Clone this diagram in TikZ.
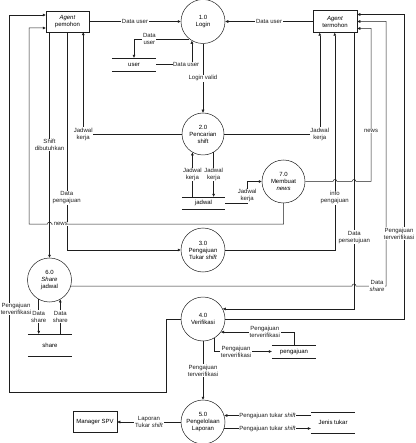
\documentclass[tikz,border=0pt]{standalone}
\usepackage{fontspec}
\setmainfont{Liberation Sans}
\usetikzlibrary{arrows.meta}
\definecolor{garis}{HTML}{1E1E1E}
\newcommand{\kecil}{\fontsize{6}{7}\selectfont}
\tikzset{
  proses/.style={circle,draw=garis,line width=0.5pt,minimum size=44pt,inner sep=0pt,align=center,font=\kecil},
  entitas/.style={draw=garis,line width=0.5pt,minimum width=44pt,minimum height=21pt,inner sep=1pt,align=center,font=\kecil},
  simpan/.style={minimum width=44pt,minimum height=13pt,inner sep=0pt,font=\kecil},
  alir/.style={-{Triangle[length=3pt,width=2.6pt]},garis,line width=0.5pt},
  polos/.style={garis,line width=0.5pt},
  ket/.style={fill=white,inner sep=0.6pt,align=center,font=\kecil},
}

\begin{document}
\begin{tikzpicture}[x=1pt,y=-1pt]
  \useasboundingbox (0,0) rectangle (415,443);
  % entitas
  \node[entitas,minimum width=43pt] (pemohon) at (67.5,21.5) {\textit{Agent}\\pemohon};
  \node[entitas,minimum height=22pt] (termohon) at (335,21.5) {\textit{Agent}\\termohon};
  \node[entitas] (spv) at (95,422) {Manager SPV};
  % proses
  \node[proses] (p1) at (203,21.5) {1.0\\Login};
  \node[proses,minimum size=42pt] (p2) at (203,134) {2.0\\Pencarian\\shift};
  \node[proses,minimum size=43pt] (p7) at (283.5,181.5) {7.0\\Membuat\\\textit{news}};
  \node[proses] (p3) at (203,250) {3.0\\Pengajuan\\Tukar \textit{shift}};
  \node[proses] (p6) at (49.5,280) {6.0\\\textit{Share}\\jadwal};
  \node[proses] (p4) at (203,319) {4.0\\Verifikasi};
  \node[proses] (p5) at (203,422) {5.0\\Pengelolaan\\Laporan};
  % data store
  \node[simpan] (user) at (134,64.5) {user};
  \node[simpan,minimum width=43pt,minimum height=12pt] (jadwal) at (203.5,203) {jadwal};
  \node[simpan,minimum height=22pt] (share) at (50,345) {share};
  \node[simpan] (pengajuan) at (294,351.5) {pengajuan};
  \node[simpan,minimum height=21pt] (jenis) at (333,422.5) {Jenis tukar};
  \foreach \s in {user,jadwal,share,pengajuan,jenis}
    \draw[polos] (\s.north west) -- (\s.north east) (\s.south west) -- (\s.south east);

  % login
  \draw[alir] (pemohon.east) -- node[ket]{Data user} (p1.west);
  \draw[alir] (termohon.west) -- node[ket]{Data user} (p1.east);
  \draw[alir] (p1.231) -| node[ket,pos=0.36]{Data\\user} (user.north);
  \draw[alir] (user.east) -| node[ket,pos=0.42]{Data user} (p1.240);
  \draw[alir] (p1) -- node[ket]{Login valid} (p2);

  % jadwal kerja
  \draw[alir] (p2.west) -| node[ket]{Jadwal\\kerja} ([xshift=-6pt]pemohon.south east);
  \draw[alir] (p2.east) -| node[ket]{Jadwal\\kerja} ([xshift=7pt]termohon.south west);
  \draw[alir] (jadwal.north -| p2.240) -- node[ket]{Jadwal\\kerja} (p2.240);
  \draw[alir] (p2.300) -- node[ket]{Jadwal\\kerja} (p2.300 |- jadwal.north);
  \draw[alir] (jadwal.east) -- ++(22,0) |- node[ket,pos=0.17]{Jadwal\\kerja} (p7.west);

  % dari agent pemohon
  \draw[alir] (p6.north |- pemohon.south) -- node[ket]{Shift\\dibutuhkan} (p6.north);
  \draw[alir] ([xshift=21pt]pemohon.south west) |- node[ket,pos=0.38]{Data\\pengajuan} (p3.west);

  % news
  \draw[alir] (p7.south) |- node[ket,pos=0.98]{news} (51.5,224) arc(0:-180:2)
    -- (29,224) |- ([yshift=-6.5pt]pemohon.west);
  \draw[alir] (p7.east) -- (333,181.5) arc(180:360:2) -- (352,181.5) arc(180:360:2)
    -- (371,181.5) |- node[ket,pos=0.165]{news} ([yshift=-7pt]termohon.east);

  % ke agent termohon
  \draw[alir] (p3.east) -| node[ket,pos=0.62]{info\\pengajuan} ([xshift=22pt]termohon.south west);
  \draw[alir] ([xshift=-3pt]termohon.south east) |- node[ket,pos=0.37]{Data\\persetujuan} (p4.27);
  \draw[alir] (p6.-16) -- (352,286) arc(180:360:2)
    -- node[ket,pos=0.7]{Data\\\textit{share}} (386,286) |- (termohon.east);
  \draw[alir] (p4.east) -- (404,319) |- node[ket,pos=0.14,xshift=-5pt]{Pengajuan\\terverifikasi} ([yshift=7pt]termohon.east);
  \draw[alir] (p4.west) -- (166,319) |- (9,392)
    |- node[ket,pos=0.11,xshift=7pt]{Pengajuan\\terverifikasi} ([yshift=6.5pt]pemohon.west);

  % share
  \draw[alir] (p6.241) -- node[ket]{Data\\share} (p6.241 |- share.north);
  \draw[alir] (share.north -| p6.299) -- node[ket]{Data\\share} (p6.299);

  % verifikasi
  \draw[alir] (pengajuan.north) |- node[ket,pos=0.7]{Pengajuan\\terverifikasi} (p4.-36);
  \draw[alir] (p4.300) |- node[ket,pos=0.69]{Pengajuan\\terverifikasi} (pengajuan.west);
  \draw[alir] (p4) -- node[ket]{Pengajuan\\terverifikasi} (p5);

  % laporan
  \draw[alir] (p5.west) -- node[ket]{Laporan\\Tukar \textit{shift}} (spv.east);
  \draw[alir] (p5.17 -| jenis.west) -- node[ket]{Pengajuan tukar \textit{shift}} (p5.17);
  \draw[alir] (p5.-17) -- node[ket]{Pengajuan tukar \textit{shift}} (p5.-17 -| jenis.west);
\end{tikzpicture}
\end{document}
